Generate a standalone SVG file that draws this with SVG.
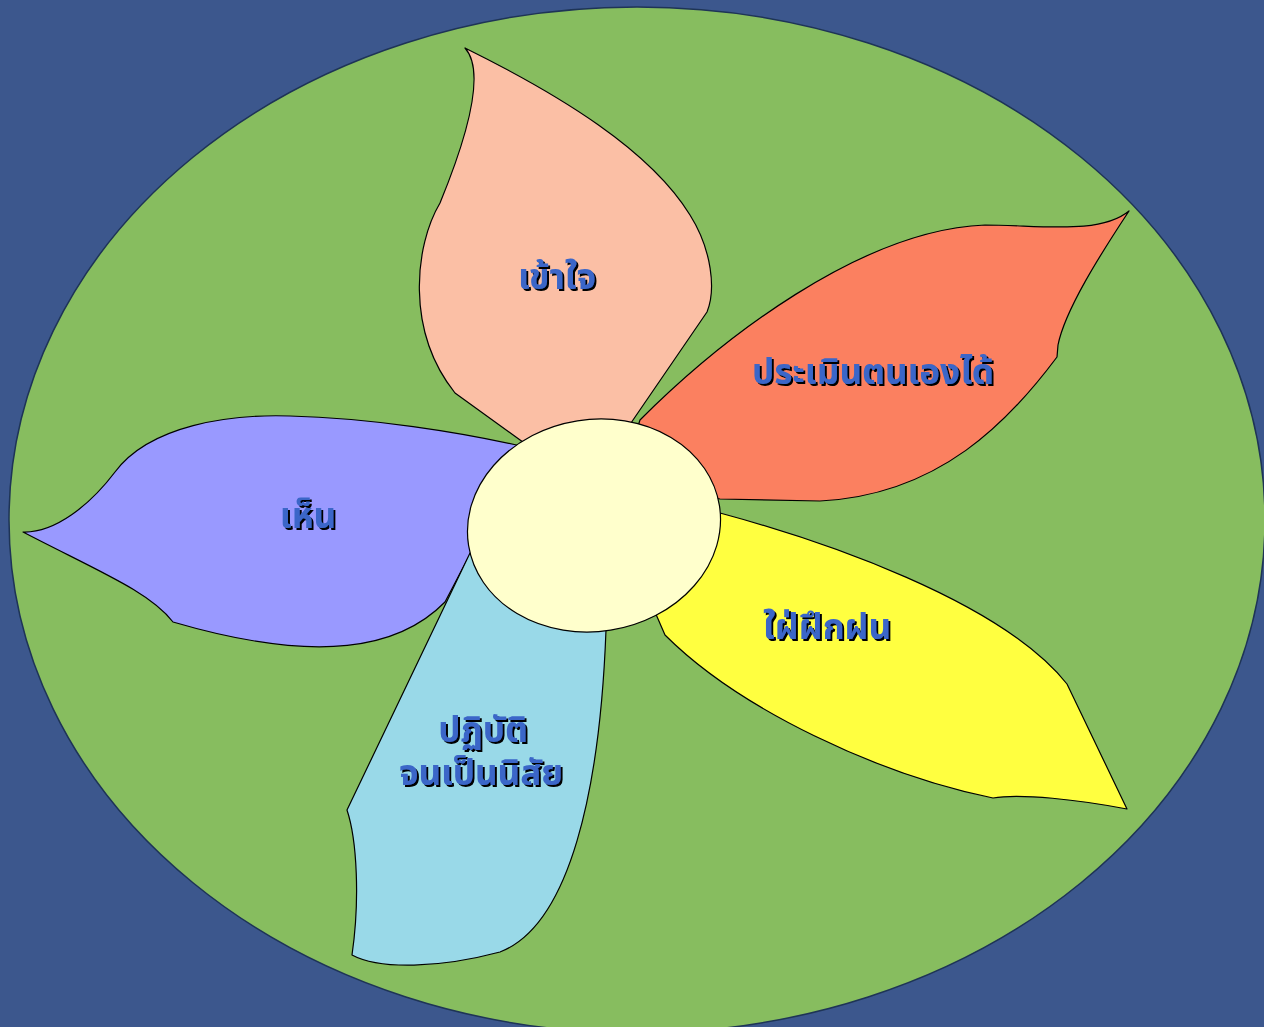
<svg xmlns="http://www.w3.org/2000/svg" width="1264" height="1027" viewBox="0 0 1264 1027">
<defs>
<filter id="shadow" x="-10%" y="-20%" width="120%" height="150%">
<feDropShadow dx="2" dy="2" stdDeviation="0.4" flood-color="#000" flood-opacity="1"/>
</filter>
</defs>
<style>
.petal{stroke:#000;stroke-width:1.2;stroke-linejoin:round}
.lbl{font-family:"Noto Sans Thai","Noto Sans","DejaVu Sans",sans-serif;font-weight:bold;font-size:35px;text-anchor:middle;fill:#3a66c8;filter:url(#shadow)}
</style>
<rect width="1264" height="1027" fill="#3c578d"/>
<ellipse cx="637" cy="520" rx="628" ry="513" fill="#87bd5f" stroke="#1e3456" stroke-width="1.5"/>
<g id="petal-top">
<path class="petal" fill="#fbbfa5" d="M465,48 C485,70 470,130 440,203 C415,245 405,330 455,393 L527,445 L600,470 L633,420 L707,312 C716,290 712,250 690,215 C650,150 560,95 465,48 Z"/>
<text class="lbl" x="557" y="289">เข้าใจ</text>
</g>
<g id="petal-right">
<path class="petal" fill="#fb8060" d="M640,420 C720,340 860,230 985,225 C1040,225 1100,235 1129,211 C1100,255 1065,310 1058,345 L1057,357 C1010,420 940,495 820,501 L720,499 L620,480 Z"/>
<text class="lbl" x="873" y="384">ประเมินตนเองได้</text>
</g>
<g id="petal-left">
<path class="petal" fill="#9999ff" d="M23,532 C55,533 90,505 115,472 C150,425 230,414 290,416 C370,418 460,432 525,447 L560,520 L468,558 L445,602 C400,648 320,665 173,622 C150,592 100,572 23,532 Z"/>
<text class="lbl" x="308" y="528">เห็น</text>
</g>
<g id="petal-bottom-left">
<path class="petal" fill="#99d9e8" d="M470,553 L347,810 C357,840 360,900 352,955 C380,970 440,968 500,952 C570,925 600,790 606,630 L580,560 Z"/>
<text class="lbl" x="482" y="742"><tspan x="483" y="742">ปฏิบัติ</tspan><tspan x="481" y="785">จนเป็นนิสัย</tspan></text>
</g>
<g id="petal-bottom-right">
<path class="petal" fill="#ffff40" d="M720,513 C820,540 1000,600 1067,684 L1127,809 C1080,800 1020,793 993,798 C880,775 740,710 665,635 L655,612 L640,560 Z"/>
<text class="lbl" x="827" y="639">ใฝ่ฝึกฝน</text>
</g>
<g id="center">
<ellipse cx="594" cy="525.5" rx="127" ry="106" transform="rotate(-9 594 525.5)" fill="#ffffcc" stroke="#000" stroke-width="1.2"/>
</g>
</svg>
